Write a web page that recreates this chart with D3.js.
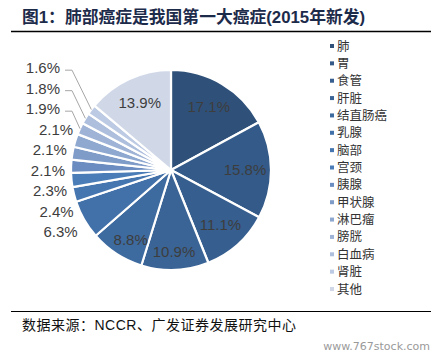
<!DOCTYPE html>
<html><head><meta charset="utf-8">
<script src="https://cdn.jsdelivr.net/npm/d3@7"></script>
<style>body{margin:0;background:#fff;}svg{display:block;}</style>
</head><body>
<svg id="c" width="447" height="357"></svg>
<script>
const categories = ["肺","胃","食管","肝脏","结直肠癌","乳腺","脑部","宫颈","胰腺","甲状腺","淋巴瘤","膀胱","白血病","肾脏","其他"];
const values = [17.1,15.8,11.1,10.9,8.8,6.3,2.4,2.3,2.1,2.1,2.1,1.9,1.8,1.6,13.9];
const colors = ["#2f5179","#335a88","#365e8f","#3a6496","#3d6a9f","#4270a8","#4676b0","#4a7db8","#6a8cc0","#7f9bc8","#8ea8d0","#9fb3d6","#aebfdd","#bccae3","#d0d8e8"];
const titleText = "图1：肺部癌症是我国第一大癌症(2015年新发)";
const sourceText = "数据来源：NCCR、广发证券发展研究中心";
const watermark = "www.767stock.com";

const svg = d3.select("#c");
const cx = 171, cy = 170, r = 100;
const cjk = "'Liberation Sans', Arial, 'Noto Sans CJK SC', sans-serif";

// title
svg.append("text").attr("x", 22).attr("y", 22.5)
  .attr("font-family", cjk).attr("font-weight", "bold").attr("font-size", 16.8)
  .attr("fill", "#1d2b4b").text(titleText);
svg.append("line").attr("x1", 11).attr("x2", 431).attr("y1", 31.5).attr("y2", 31.5)
  .attr("stroke", "#000").attr("stroke-width", 1.5);
svg.append("line").attr("x1", 11).attr("x2", 431).attr("y1", 311.5).attr("y2", 311.5)
  .attr("stroke", "#000").attr("stroke-width", 1.2);
svg.append("text").attr("x", 22).attr("y", 330)
  .attr("font-family", cjk).attr("font-size", 14).attr("letter-spacing", 0.5)
  .attr("fill", "#111").text(sourceText);
svg.append("text").attr("x", 430).attr("y", 350).attr("text-anchor", "end")
  .attr("font-family", "'DejaVu Sans', sans-serif").attr("font-size", 11).attr("fill", "#9a9a9a").text(watermark);

const data = categories.map((c, i) => ({cat: c, value: values[i], color: colors[i]}));
const pie = d3.pie().sort(null).value(d => d.value);
const arcs = pie(data);
const arc = d3.arc().innerRadius(0).outerRadius(r);
const g = svg.append("g").attr("transform", `translate(${cx},${cy})`);
g.selectAll("path").data(arcs).join("path")
  .attr("d", arc).attr("fill", d => d.data.color)
  .attr("stroke", "#fff").attr("stroke-width", 2.2).attr("stroke-linejoin", "round");

const fmt = v => v.toFixed(1) + "%";
const labelFont = "'Liberation Sans', Arial, sans-serif";
const inner = arcs.filter(d => d.data.value >= 8);
const outer = arcs.filter(d => d.data.value < 8);
const mid = d => (d.startAngle + d.endAngle) / 2;
const inArc = d3.arc().innerRadius(r * 0.74).outerRadius(r * 0.74);
g.selectAll("text.in").data(inner).join("text")
  .attr("x", d => inArc.centroid(d)[0])
  .attr("y", d => inArc.centroid(d)[1] + (Math.cos(mid(d)) < -0.8 ? 8 : 0))
  .attr("dy", "0.35em").attr("text-anchor", "middle")
  .attr("font-family", labelFont).attr("font-size", 15).attr("fill", "#3d3d3d")
  .text(d => fmt(d.data.value));

// outer labels: natural y, then relaxed apart
const RL = r + 25;
let items = outer.map(d => ({d, ny: -Math.cos(mid(d)) * RL}));
items.sort((a, b) => b.ny - a.ny);
items.forEach(it => it.y = it.ny);
const gap = 20.5;
for (let k = 0; k < 200; k++) {
  for (let i = 1; i < items.length; i++) {
    const a = items[i - 1], b = items[i];
    const diff = a.y - b.y;
    if (diff < gap) {
      const push = (gap - diff) / 2;
      if (i - 1 === 0) { b.y -= push * 2; } else { a.y += push; b.y -= push; }
    }
  }
}
items.forEach(it => {
  const dy = it.y;
  const rr = r + 4;
  const base = Math.abs(dy) < rr ? Math.sqrt(rr * rr - dy * dy) : 0;
  it.xEnd = -base - 2 - (it.d.data.value > 5 ? 8 : 0);
  const a = mid(it.d);
  const px = Math.sin(a) * r, py = -Math.cos(a) * r;
  it.lead = (it.ny - dy) > 5;
  if (it.lead) {
    it.xEnd = -r - 11;
    g.append("polyline")
      .attr("points", [[it.xEnd + 5, dy + 2], [it.xEnd + 12, dy + 2], [px, py]].map(p => p.join(",")).join(" "))
      .attr("fill", "none").attr("stroke", "#a6a6a6").attr("stroke-width", 1);
  }
  g.append("text").attr("x", it.xEnd).attr("y", dy).attr("dy", "0.35em")
    .attr("text-anchor", "end").attr("font-family", labelFont).attr("font-size", 15)
    .attr("fill", "#3d3d3d").text(fmt(it.d.data.value));
});

// legend
const leg = svg.append("g");
const ly = d3.scalePoint().domain(categories).range([46, 289]);
categories.forEach((c, i) => {
  leg.append("rect").attr("x", 330).attr("y", ly(c) - 2).attr("width", 4).attr("height", 4).attr("fill", colors[i]);
  leg.append("text").attr("x", 337).attr("y", ly(c)).attr("dy", "0.36em")
    .attr("font-family", "'Noto Sans CJK SC', sans-serif").attr("font-size", 12.5).attr("fill", "#333").text(c);
});
</script>
</body></html>
